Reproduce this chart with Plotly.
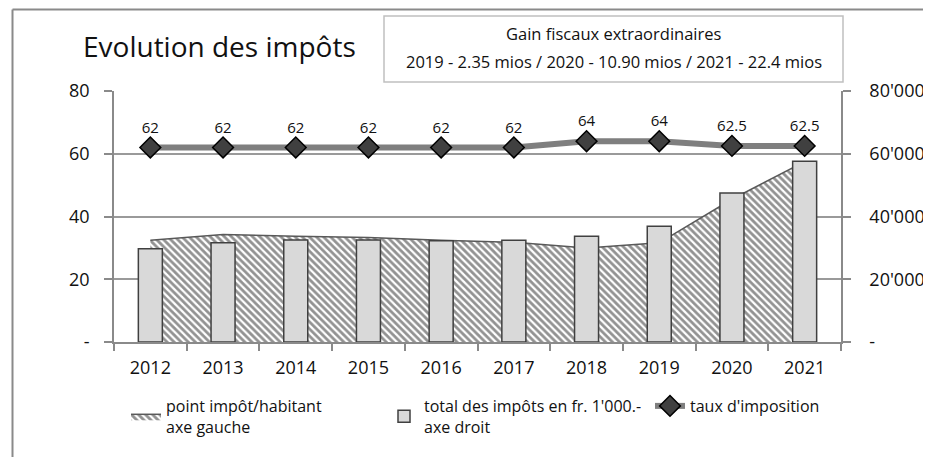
import plotly.graph_objects as go

# ---------------- data ----------------
years = ['2012', '2013', '2014', '2015', '2016', '2017', '2018', '2019', '2020', '2021']
point_impot_habitant = [32.4, 34.3, 33.7, 33.3, 32.4, 31.8, 30.0, 31.6, 45.5, 57.5]
total_impots = [29700, 31600, 32500, 32500, 32300, 32400, 33700, 36900, 47500, 57600]
taux_imposition = [62, 62, 62, 62, 62, 62, 64, 64, 62.5, 62.5]
taux_labels = ['62', '62', '62', '62', '62', '62', '64', '64', '62.5', '62.5']

left_tickvals = [0, 20, 40, 60, 80]
left_ticktext = ['-', '20', '40', '60', '80']
right_tickvals = [0, 20000, 40000, 60000, 80000]
right_ticktext = ['-', "20'000", "40'000", "60'000", "80'000"]

title_text = 'Evolution des impôts'
box_line1 = 'Gain fiscaux extraordinaires'
box_line2 = '2019 - 2.35 mios / 2020 - 10.90 mios / 2021 - 22.4 mios'

# ---------------- layout helpers ----------------
OFF = 8                      # page body margin in the browser
W, H = 931 - OFF, 457 - OFF  # figure size so that it ends at the window edge
# plot area in screen pixels
SL, SR, ST, SB = 114, 841, 91, 342
L, R, T, B = SL - OFF, SR - OFF, ST - OFF, SB - OFF


def px(x):   # screen x -> paper
    return (x - SL) / (SR - SL)


def py(y):   # screen y -> paper
    return (SB - y) / (SB - ST)


def cx(x):   # screen x -> container
    return (x - OFF) / W


def cy(y):   # screen y -> container
    return 1 - (y - OFF) / H


FONT = 'Open Sans, Noto Sans, DejaVu Sans, sans-serif'
AXC = '#8a8a8a'
GRIDC = '#9a9a9a'
TXT = '#111111'

fig = go.Figure()

fig.add_trace(go.Scatter(
    x=years, y=point_impot_habitant, name='point impôt/habitant<br>axe gauche',
    mode='lines', fill='tozeroy', fillcolor='white',
    fillpattern=dict(shape='\\', fgcolor='#262626', bgcolor='white', size=5, solidity=0.55),
    line=dict(color='#595959', width=1.5), yaxis='y', legend='legend',
    hoverinfo='skip'))

fig.add_trace(go.Bar(
    x=years, y=total_impots, name="total des impôts en fr. 1'000.-<br>axe droit",
    marker=dict(color='#d9d9d9', line=dict(color='#404040', width=1.5)),
    width=0.33, yaxis='y2', legend='legend2'))

fig.add_trace(go.Scatter(
    x=years, y=taux_imposition, name="taux d'imposition",
    mode='lines+markers+text', text=taux_labels, textposition='top center',
    textfont=dict(size=15, color=TXT, family=FONT),
    line=dict(color='#7f7f7f', width=6),
    marker=dict(symbol='diamond', size=16, color='#404040', line=dict(color='#000000', width=1.5)),
    yaxis='y', legend='legend3', cliponaxis=False))

legend_common = dict(orientation='h', yanchor='top', xanchor='left', xref='container', yref='container',
                     font=dict(size=16, color=TXT, family=FONT), bgcolor='rgba(0,0,0,0)')

fig.update_layout(
    width=W, height=H,
    margin=dict(l=L, r=W - R, t=T, b=H - B, autoexpand=False),
    paper_bgcolor='white', plot_bgcolor='white',
    font=dict(family=FONT, color=TXT),
    showlegend=True,
    title=dict(text=title_text, font=dict(size=28, color=TXT, family=FONT),
               xref='container', yref='container', x=cx(83), xanchor='left',
               y=cy(47), yanchor='middle', automargin=False),
    xaxis=dict(type='category', range=[-0.5, 9.5], showline=True, linecolor=AXC, linewidth=1.5,
               ticks='outside', tickson='boundaries', ticklen=7, tickcolor=AXC, tickwidth=1.5,
               showgrid=False, tickfont=dict(size=18, color=TXT, family=FONT),
               ticklabelstandoff=9, automargin=False),
    yaxis=dict(range=[0, 80], tickvals=left_tickvals, ticktext=left_ticktext,
               showline=True, linecolor=AXC, linewidth=1.5, ticks='outside', ticklen=8,
               tickcolor=AXC, tickwidth=1.5, showgrid=True, gridcolor=GRIDC, gridwidth=1.5,
               zeroline=False, tickfont=dict(size=18, color=TXT, family=FONT),
               ticklabelstandoff=11, automargin=False),
    yaxis2=dict(range=[0, 80000], tickvals=right_tickvals, ticktext=right_ticktext,
                overlaying='y', side='right', showline=True, linecolor=AXC, linewidth=1.5,
                ticks='outside', ticklen=8, tickcolor=AXC, tickwidth=1.5, showgrid=False,
                zeroline=False, tickfont=dict(size=18, color=TXT, family=FONT),
                ticklabelstandoff=15, automargin=False),
    legend=dict(x=cx(126), y=cy(389), **legend_common),
    legend2=dict(x=cx(384), y=cy(389), **legend_common),
    legend3=dict(x=cx(650), y=cy(389), **legend_common),
    shapes=[
        # outer chart border (left and top)
        dict(type='line', xref='paper', yref='paper', x0=px(12.5), x1=px(12.5),
             y0=py(9.5), y1=py(470), line=dict(color='#8a8a8a', width=2)),
        dict(type='line', xref='paper', yref='paper', x0=px(12.5), x1=px(940),
             y0=py(9.5), y1=py(9.5), line=dict(color='#8a8a8a', width=2)),
        # note box
        dict(type='rect', xref='paper', yref='paper', x0=px(384), x1=px(843),
             y0=py(82), y1=py(16), line=dict(color='#c0c0c0', width=1.5), fillcolor='white'),
    ],
    annotations=[
        dict(text=box_line1, xref='paper', yref='paper', x=px(613.5), y=py(34),
             xanchor='center', yanchor='middle', showarrow=False,
             font=dict(size=16.5, color=TXT, family=FONT)),
        dict(text=box_line2, xref='paper', yref='paper', x=px(613.5), y=py(61),
             xanchor='center', yanchor='middle', showarrow=False,
             font=dict(size=16.5, color=TXT, family=FONT)),
    ],
)

fig.write_html('out.html')
